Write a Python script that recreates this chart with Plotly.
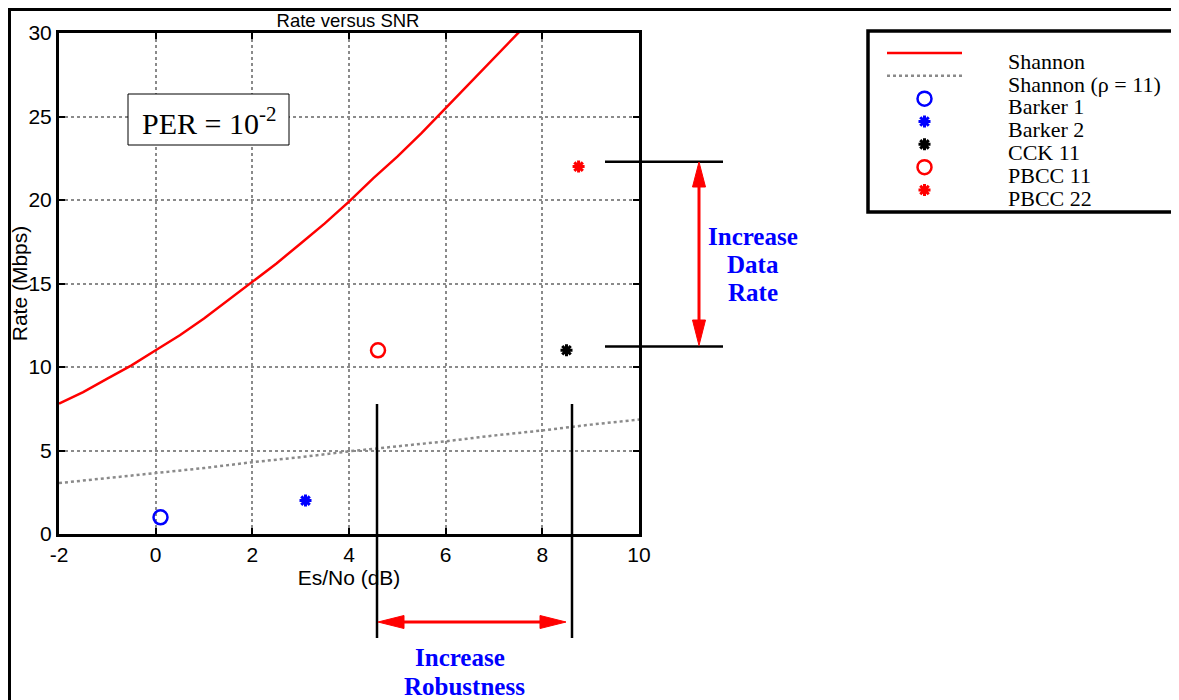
import plotly.graph_objects as go

# ---------------- data ----------------
shannon_snr_db = [-2, -1.5, -1, -0.5, 0, 0.5, 1, 1.5, 2, 2.5, 3, 3.5, 4, 4.5,
                  5, 5.5, 6, 6.5, 7, 7.5, 7.6]
shannon_rate = [7.8, 8.5, 9.3, 10.1, 11.0, 11.9, 12.9, 14.0, 15.1, 16.2, 17.4,
                18.6, 19.9, 21.3, 22.6, 24.0, 25.5, 27.0, 28.5, 30.0, 30.3]

shannon_rho_snr_db = [-2, -1, 0, 1, 2, 3, 4, 5, 6, 7, 8, 9, 10]
shannon_rho_rate = [3.05, 3.35, 3.65, 3.95, 4.3, 4.6, 4.95, 5.25, 5.55, 5.9,
                    6.2, 6.55, 6.85]

scheme_names = ["Barker 1", "Barker 2", "CCK 11", "PBCC 11", "PBCC 22"]
scheme_snr_db = [0.1, 3.1, 8.5, 4.6, 8.75]
scheme_rate = [1, 2, 11, 11, 22]

legend_labels = ["Shannon", "Shannon (\u03c1 = 11)", "Barker 1", "Barker 2",
                 "CCK 11", "PBCC 11", "PBCC 22"]

x_ticks = [-2, 0, 2, 4, 6, 8, 10]
x_tick_text = ["-2", "0", "2", "4", "6", "8", "10"]
y_ticks = [0, 5, 10, 15, 20, 25, 30]
y_tick_text = ["0", "5", "10", "15", "20", "25", "30"]

# ---------------- styles ----------------
W, H = 1179, 700
OFF = 8  # page body margin compensation
SANS = "Arial, Liberation Sans, sans-serif"
SERIF = "Times New Roman, Liberation Serif, serif"
RED = "#ff0000"
BLUE = "#0000ff"
GRAY = "#8a8a8a"

scheme_styles = {
    "Barker 1": dict(symbol="circle-open", color=BLUE, size=14, lw=2.5),
    "Barker 2": dict(symbol="asterisk-open", color=BLUE, size=10, lw=3),
    "CCK 11": dict(symbol="asterisk-open", color="black", size=10, lw=3),
    "PBCC 11": dict(symbol="circle-open", color=RED, size=14, lw=2.5),
    "PBCC 22": dict(symbol="asterisk-open", color=RED, size=10, lw=3),
}


def X(px):
    return (px - OFF) / W


def Y(py):
    return 1 - (py - OFF) / H


fig = go.Figure()

# ---------------- main plot ----------------
fig.add_trace(go.Scatter(x=shannon_snr_db, y=shannon_rate, mode="lines",
                         name="Shannon", line=dict(color=RED, width=2.5),
                         showlegend=False))
fig.add_trace(go.Scatter(x=shannon_rho_snr_db, y=shannon_rho_rate, mode="lines",
                         name="Shannon (\u03c1 = 11)",
                         line=dict(color=GRAY, width=2.5, dash="dot"),
                         showlegend=False))
for name, sx, sy in zip(scheme_names, scheme_snr_db, scheme_rate):
    st = scheme_styles[name]
    fig.add_trace(go.Scatter(x=[sx], y=[sy], mode="markers", name=name,
                             marker=dict(symbol=st["symbol"], color=st["color"],
                                         size=st["size"],
                                         line=dict(color=st["color"], width=st["lw"])),
                             showlegend=False))

# ---------------- legend drawn on its own small axes ----------------
fig.add_trace(go.Scatter(x=[0, 1], y=[legend_labels[0]] * 2, mode="lines",
                         line=dict(color=RED, width=2.5), xaxis="x2", yaxis="y2",
                         showlegend=False, hoverinfo="skip"))
fig.add_trace(go.Scatter(x=[0, 1], y=[legend_labels[1]] * 2, mode="lines",
                         line=dict(color=GRAY, width=2.5, dash="dot"),
                         xaxis="x2", yaxis="y2", showlegend=False, hoverinfo="skip"))
for name in scheme_names:
    st = scheme_styles[name]
    fig.add_trace(go.Scatter(x=[0.5], y=[name], mode="markers",
                             marker=dict(symbol=st["symbol"], color=st["color"],
                                         size=st["size"],
                                         line=dict(color=st["color"], width=st["lw"])),
                             xaxis="x2", yaxis="y2", showlegend=False,
                             hoverinfo="skip"))

axis_common = dict(
    showline=True, linewidth=3, linecolor="black", mirror="ticks",
    ticks="inside", ticklen=6, tickwidth=2, tickcolor="black",
    showgrid=True, gridcolor=GRAY, gridwidth=1.5, griddash="dot",
    zeroline=False, tickfont=dict(family=SANS, size=21, color="black"),
    automargin=False, tickmode="array",
)

fig.update_layout(
    width=W, height=H,
    margin=dict(l=0, r=0, t=0, b=0),
    paper_bgcolor="white", plot_bgcolor="white",
    showlegend=False,
    title=dict(text="Rate versus SNR", x=X(348), xanchor="center",
               xref="paper", yref="container", y=Y(21), yanchor="middle",
               font=dict(family=SANS, size=18.5, color="black")),
    xaxis=dict(domain=[X(59), X(639)], range=[-2, 10], tickvals=x_ticks,
               ticktext=x_tick_text,
               title=dict(text="Es/No (dB)", standoff=2,
                          font=dict(family=SANS, size=21, color="black")),
               **axis_common),
    yaxis=dict(domain=[Y(534), Y(33)], range=[0, 30], tickvals=y_ticks,
               ticktext=y_tick_text,
               title=dict(text="Rate (Mbps)", standoff=8,
                          font=dict(family=SANS, size=21, color="black")),
               **axis_common),
    xaxis2=dict(domain=[X(887), X(962)], range=[0, 1], visible=False,
                anchor="y2", fixedrange=True),
    yaxis2=dict(domain=[Y(201.4), Y(41.6)], anchor="x2", side="right",
                type="category", categoryorder="array",
                categoryarray=legend_labels, range=[6.5, -0.5],
                tickmode="array", tickvals=legend_labels,
                showgrid=False, showline=False, zeroline=False, ticks="",
                ticklabelstandoff=45, ticklabelshift=-8,
                tickfont=dict(family=SERIF, size=22, color="black"),
                fixedrange=True, automargin=False),
)

# ---------------- decorations ----------------
shapes = []
# outer figure frame (kept inside the drawable page area)
shapes.append(dict(type="rect", xref="paper", yref="paper", x0=X(9.5), x1=1.1,
                   y0=-0.1, y1=Y(9.5), line=dict(color="black", width=3)))
# legend box
shapes.append(dict(type="rect", xref="paper", yref="paper", x0=X(868), x1=1.1,
                   y0=Y(212), y1=Y(31), line=dict(color="black", width=3.5)))
# PER box
shapes.append(dict(type="rect", xref="paper", yref="paper", x0=X(128), x1=X(289),
                   y0=Y(145), y1=Y(94), line=dict(color="black", width=1),
                   fillcolor="white", layer="above"))
# black guide lines
for gx in (377, 572):
    shapes.append(dict(type="line", xref="paper", yref="paper", x0=X(gx), x1=X(gx),
                       y0=Y(404), y1=Y(638), line=dict(color="black", width=2.5)))
for gy in (161.7, 346.5):
    shapes.append(dict(type="line", xref="paper", yref="paper", x0=X(605), x1=X(723),
                       y0=Y(gy), y1=Y(gy), line=dict(color="black", width=2.5)))
# red double arrows (shafts)
shapes.append(dict(type="line", xref="paper", yref="paper", x0=X(699), x1=X(699),
                   y0=Y(185), y1=Y(322), line=dict(color=RED, width=3)))
shapes.append(dict(type="line", xref="paper", yref="paper", x0=X(402), x1=X(542),
                   y0=Y(622), y1=Y(622), line=dict(color=RED, width=3)))


def tri(p1, p2, p3):
    return "M {},{} L {},{} L {},{} Z".format(X(p1[0]), Y(p1[1]), X(p2[0]), Y(p2[1]),
                                              X(p3[0]), Y(p3[1]))


for path in (tri((699, 162), (692.5, 187), (705.5, 187)),
             tri((699, 345.5), (692.5, 320), (705.5, 320)),
             tri((378, 622), (404, 615.5), (404, 628.5)),
             tri((566, 622), (540, 615.5), (540, 628.5))):
    shapes.append(dict(type="path", xref="paper", yref="paper", path=path,
                       fillcolor=RED, line=dict(color=RED, width=1)))

fig.update_layout(shapes=shapes)

annotations = [
    dict(text="PER = 10<sup>-2</sup>", x=X(208.5), y=Y(121), xref="paper",
         yref="paper", showarrow=False, xanchor="center", yanchor="middle",
         font=dict(family=SERIF, size=30, color="black")),
]
for txt, cx, cy in (("Increase", 753, 236.7), ("Data", 753, 264.5),
                    ("Rate", 753, 292.5), ("Increase", 460, 657),
                    ("Robustness", 464, 686)):
    annotations.append(dict(text="<b>" + txt + "</b>", x=X(cx), y=Y(cy),
                            xref="paper", yref="paper", showarrow=False,
                            xanchor="center", yanchor="middle",
                            font=dict(family=SERIF, size=25, color=BLUE)))
fig.update_layout(annotations=annotations)

fig.write_html("out.html")
